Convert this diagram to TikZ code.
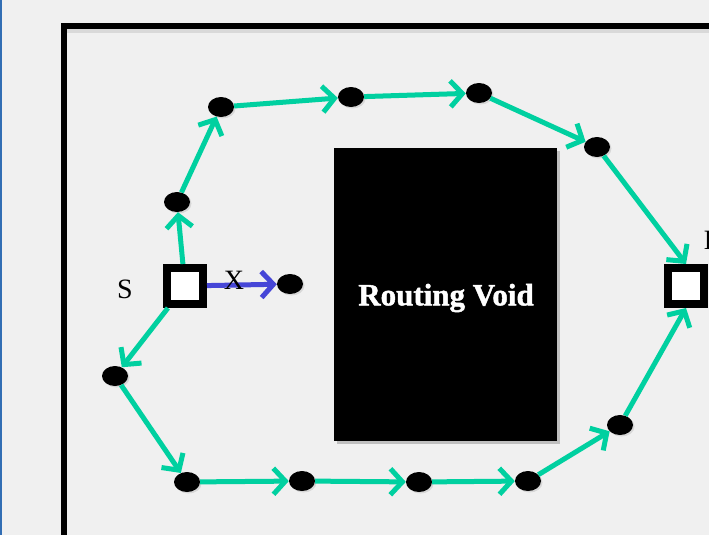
\documentclass[tikz,border=0pt]{standalone}
\usepackage{fontspec}
\setmainfont{Liberation Serif}
\newfontfamily\voidfont[FakeBold=1.5]{Liberation Serif}
\usetikzlibrary{arrows.meta,shapes.geometric,shadows}
\definecolor{bg}{RGB}{240,240,240}
\definecolor{tealline}{RGB}{0,208,160}
\definecolor{bluearrow}{RGB}{70,70,215}
\definecolor{edgeblue}{RGB}{50,110,180}
\begin{document}
\begin{tikzpicture}[x=1pt,y=-1pt,
  dot/.style={ellipse, fill=black, minimum width=26pt, minimum height=20pt, inner sep=0pt,
    drop shadow={shadow xshift=1.5pt, shadow yshift=-1.5pt, fill=black!25}},
  sq/.style={draw=black, line width=8pt, fill=white, minimum size=36pt, inner sep=0pt,
    drop shadow={shadow xshift=1.5pt, shadow yshift=-1.5pt, fill=black!25}},
  link/.style={draw=tealline, line width=5pt, -{Straight Barb[length=12pt,width=26pt]}},
  blink/.style={draw=bluearrow, line width=5pt, -{Straight Barb[length=12pt,width=26pt]}},
  lbl/.style={font=\fontsize{28}{30}\selectfont, inner sep=0pt}]
\useasboundingbox (0,0) rectangle (709,535);
\fill[bg] (0,0) rectangle (709,535);
\fill[edgeblue] (0,0) rectangle (1.5,535);
% frame
\fill[black!15] (67,29) rectangle (709,33);
\draw[line width=6pt] (64,700) -- (64,26) -- (900,26);
% void
\fill[black!25] (337,151) rectangle (560,444);
\node[fill=black, minimum width=223pt, minimum height=293pt, inner sep=0pt] (void) at (445.5,294.5) {};
\node[text=white, inner sep=0pt, font=\voidfont\bfseries\fontsize{31}{33}\selectfont] (voidl) at (446,298) {Routing Void};
% squares
\node[sq] (s) at (185,286) {};
\node[sq] (d) at (686,286) {};
\node[lbl] (sl) at (125,289) {S};
\node[lbl] (dl) at (714,240) {D};
% dots
\node[dot] (x) at (290,284) {};
\node[dot] (t1) at (177,202) {};
\node[dot] (t2) at (221,107) {};
\node[dot] (t3) at (351,97) {};
\node[dot] (t4) at (479,93) {};
\node[dot] (t5) at (597,147) {};
\node[dot] (b1) at (115,376) {};
\node[dot] (b2) at (187,482) {};
\node[dot] (b3) at (302,481) {};
\node[dot] (b4) at (419,482) {};
\node[dot] (b5) at (528,481) {};
\node[dot] (b6) at (620,425) {};
% links
\draw[link] (s) -- (t1);
\draw[link] (t1) -- (t2);
\draw[link] (t2) -- (t3);
\draw[link] (t3) -- (t4);
\draw[link] (t4) -- (t5);
\draw[link] (t5) -- (d.north);
\draw[link] (s) -- (b1);
\draw[link] (b1) -- (b2);
\draw[link] (b2) -- (b3);
\draw[link] (b3) -- (b4);
\draw[link] (b4) -- (b5);
\draw[link] (b5) -- (b6);
\draw[link] (b6) -- (d.south);
\draw[blink] (s) -- (x);
\node[lbl] (xl) at (234,280) {X};
\end{tikzpicture}
\end{document}
